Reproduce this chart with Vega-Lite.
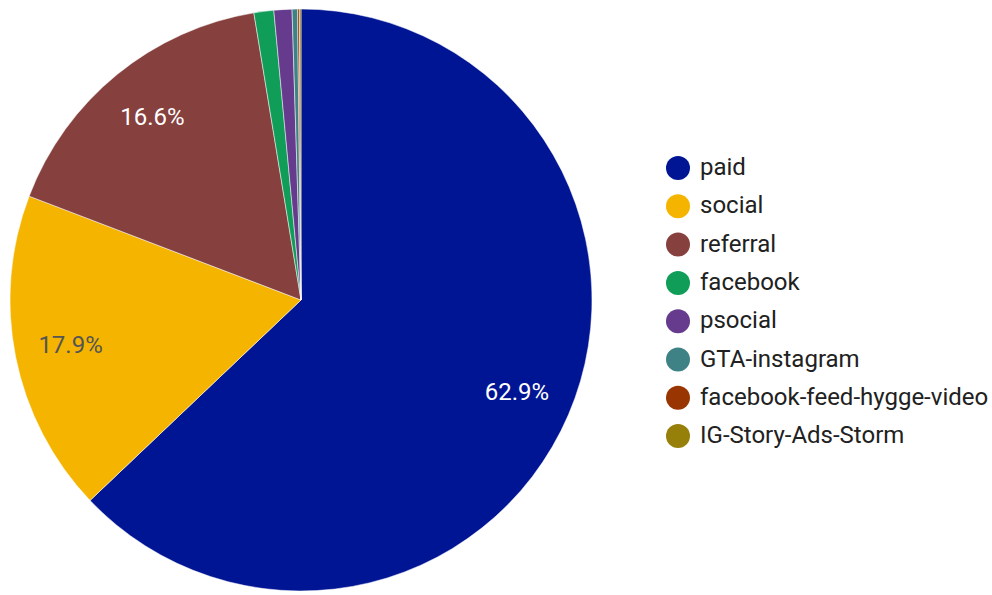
{
  "$schema": "https://vega.github.io/schema/vega-lite/v6.json",
  "width": 602,
  "height": 600,
  "padding": 0,
  "background": "#ffffff",
  "data": {
    "values": [
      {"source": "paid", "value": 62.9},
      {"source": "social", "value": 17.9},
      {"source": "referral", "value": 16.6},
      {"source": "facebook", "value": 1.1},
      {"source": "psocial", "value": 1.0},
      {"source": "GTA-instagram", "value": 0.3},
      {"source": "facebook-feed-hygge-video", "value": 0.1},
      {"source": "IG-Story-Ads-Storm", "value": 0.09}
    ]
  },
  "transform": [
    {"calculate": "datum.value > 5 ? format(datum.value / 100, '.1%') : ''", "as": "label"}
  ],
  "encoding": {
    "theta": {"field": "value", "type": "quantitative", "stack": true},
    "order": {"field": "value", "type": "quantitative", "sort": "descending"}
  },
  "layer": [
    {
      "mark": {"type": "arc", "outerRadius": 291, "stroke": "#ffffff", "strokeWidth": 0.5},
      "encoding": {
        "color": {
          "field": "source",
          "type": "nominal",
          "scale": {
            "domain": ["paid", "social", "referral", "facebook", "psocial", "GTA-instagram", "facebook-feed-hygge-video", "IG-Story-Ads-Storm"],
            "range": ["#001593", "#F4B400", "#86403E", "#0F9D58", "#663A8C", "#3F8285", "#993500", "#97800A"]
          },
          "legend": {
            "title": null,
            "orient": "none",
            "legendX": 666,
            "legendY": 156,
            "symbolType": "circle",
            "symbolSize": 576,
            "symbolStrokeWidth": 0,
            "labelFont": "Roboto",
            "labelFontSize": 24,
            "labelColor": "#212121",
            "labelOffset": 10,
            "labelLimit": 400,
            "rowPadding": 14.3,
            "padding": 0
          }
        }
      }
    },
    {
      "mark": {"type": "text", "radius": 235, "font": "Roboto", "fontSize": 24, "align": "center", "baseline": "middle"},
      "encoding": {
        "text": {"field": "label", "type": "nominal"},
        "color": {
          "condition": {"test": "datum.source === 'social'", "value": "#555555"},
          "value": "#ffffff"
        }
      }
    }
  ]
}
